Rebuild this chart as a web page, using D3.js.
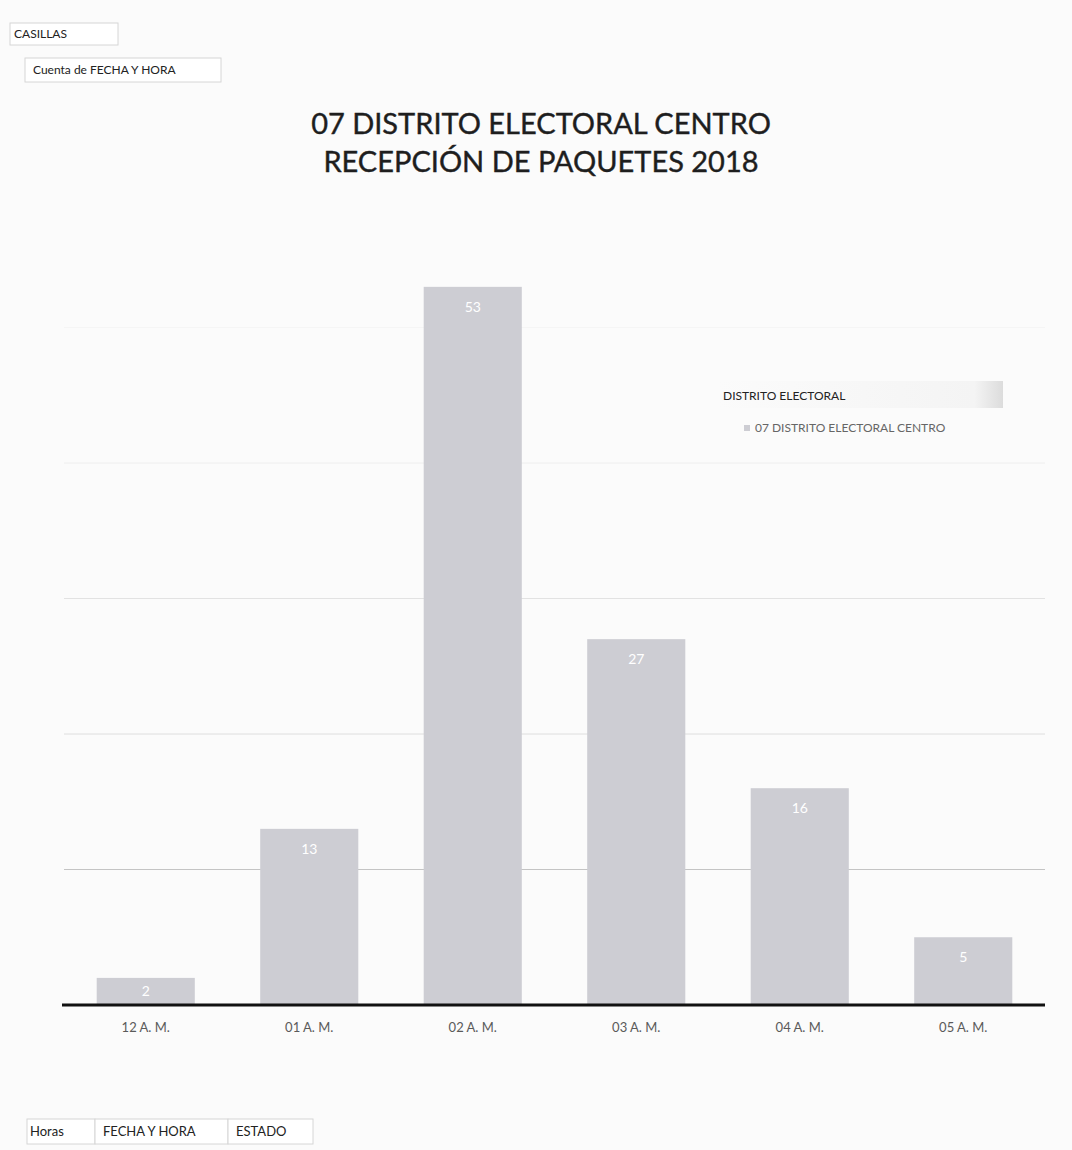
<!DOCTYPE html>
<html><head><meta charset="utf-8">
<script src="https://cdn.jsdelivr.net/npm/d3@7"></script>
<style>
html,body{margin:0;padding:0;background:#fbfbfb;}
svg{display:block;font-family:"Lato","Open Sans",sans-serif;}
</style></head>
<body><svg id="c" width="1072" height="1150"></svg>
<script>
const categories = ["12 A. M.","01 A. M.","02 A. M.","03 A. M.","04 A. M.","05 A. M."];
const values = [2,13,53,27,16,5];
const gridTicks = [10,20,30,40,50];
const titleLines = ["07 DISTRITO ELECTORAL CENTRO","RECEPCIÓN DE PAQUETES 2018"];
const legendTitle = "DISTRITO ELECTORAL";
const seriesName = "07 DISTRITO ELECTORAL CENTRO";
const topButtons = ["CASILLAS","Cuenta de FECHA Y HORA"];
const bottomButtons = ["Horas","FECHA Y HORA","ESTADO"];

const svg = d3.select("#c");
const x = d3.scaleBand().domain(categories).range([64,1045]).paddingInner(0.40).paddingOuter(0.20);
const y = d3.scaleLinear().domain([0,60]).range([1005,192]);
const gridColor = {10:"#c4c4c4",20:"#dedede",30:"#e2e2e2",40:"#eeeeee",50:"#f5f5f5"};

// gridlines
svg.append("g").selectAll("line").data(gridTicks).join("line")
  .attr("x1",64).attr("x2",1045)
  .attr("y1",d=>y(d)).attr("y2",d=>y(d))
  .attr("stroke",d=>gridColor[d]).attr("stroke-width",1);

// bars
svg.append("g").selectAll("rect").data(values).join("rect")
  .attr("x",(d,i)=>x(categories[i])).attr("width",x.bandwidth())
  .attr("y",d=>y(d)).attr("height",d=>y(0)-y(d))
  .attr("fill","#cdcdd3");

// value labels
svg.append("g").selectAll("text").data(values).join("text")
  .attr("x",(d,i)=>x(categories[i])+x.bandwidth()/2)
  .attr("y",d=>Math.min(y(d)+25, (y(d)+y(0))/2+5))
  .attr("text-anchor","middle").attr("fill","#ffffff")
  .attr("font-size",14).text(d=>d);

// axis
const xAxis = svg.append("g").attr("transform",`translate(0,${y(0)})`)
  .call(d3.axisBottom(x).tickSize(0).tickPadding(18));
xAxis.select(".domain").attr("stroke","#111").attr("stroke-width",3).attr("d","M62,0H1045");
xAxis.selectAll("text").attr("font-size",13).attr("fill","#5a5a5a").attr("font-family","Lato, sans-serif");

// title
svg.append("g").selectAll("text").data(titleLines).join("text")
  .attr("x",541).attr("y",(d,i)=>134+i*38).attr("text-anchor","middle")
  .attr("font-size",29).attr("fill","#1e1e1e").attr("stroke","#1e1e1e").attr("stroke-width",0.4).text(d=>d);

// legend
const lg = svg.append("g");
const grad = svg.append("defs").append("linearGradient").attr("id","lgGrad");
grad.append("stop").attr("offset","0").attr("stop-color","#fbfbfb");
grad.append("stop").attr("offset","0.9").attr("stop-color","#f4f4f4");
grad.append("stop").attr("offset","1").attr("stop-color","#dcdcdc");
lg.append("rect").attr("x",718).attr("y",381).attr("width",285).attr("height",27).attr("fill","url(#lgGrad)");
lg.append("text").attr("x",723).attr("y",400).attr("font-size",12).attr("fill","#222").text(legendTitle);
lg.append("rect").attr("x",744).attr("y",425).attr("width",6).attr("height",6).attr("fill","#cdcdd3");
lg.append("text").attr("x",755).attr("y",432).attr("font-size",12).attr("fill","#666").text(seriesName);

// top buttons
const tb = svg.append("g");
const topBox = [[10,23,108,22],[25,58,196,24]];
topButtons.forEach((t,i)=>{
  const b=topBox[i];
  tb.append("rect").attr("x",b[0]).attr("y",b[1]).attr("width",b[2]).attr("height",b[3])
    .attr("fill","#ffffff").attr("stroke","#d6d6d6");
  tb.append("text").attr("x",b[0]+(i===0?4:8)).attr("y",b[1]+b[3]/2+4).attr("font-size",12).attr("fill","#222").text(t);
});

// bottom buttons
const bb = svg.append("g");
const botBox = [[27,1119,68,25],[95,1119,133,25],[228,1119,85,25]];
bottomButtons.forEach((t,i)=>{
  const b=botBox[i];
  bb.append("rect").attr("x",b[0]).attr("y",b[1]).attr("width",b[2]).attr("height",b[3])
    .attr("fill","#ffffff").attr("stroke","#d6d6d6");
  bb.append("text").attr("x",b[0]+(i===0?3:8)).attr("y",b[1]+17).attr("font-size",13).attr("fill","#222").text(t);
});
</script></body></html>
